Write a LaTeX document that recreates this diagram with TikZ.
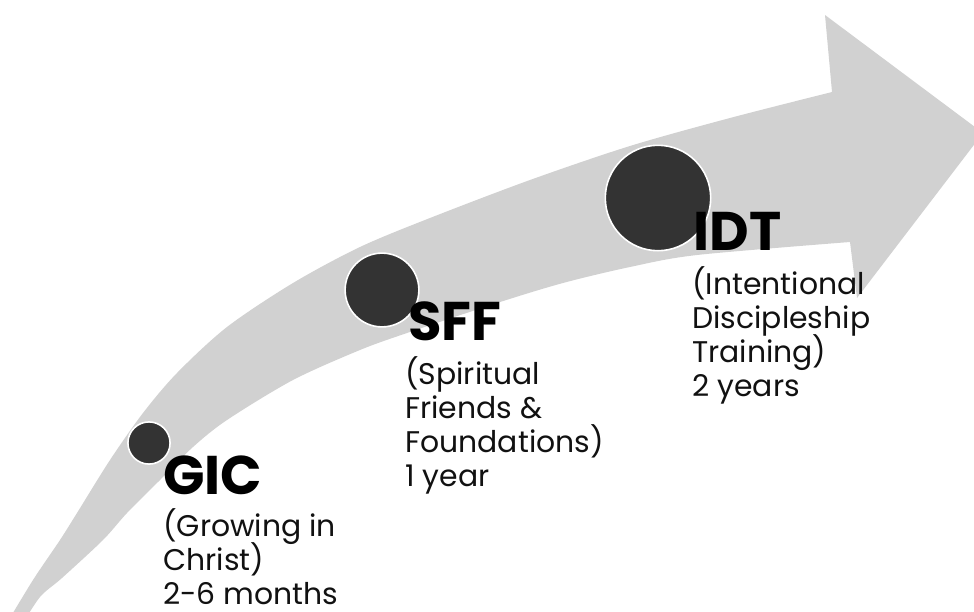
\documentclass[tikz,border=0pt]{standalone}
\usepackage{fontspec}
\setmainfont{Poppins}
\definecolor{arrowgray}{HTML}{D1D1D1}
\definecolor{dotgray}{HTML}{333333}
\definecolor{textblack}{HTML}{111111}
\begin{document}
\begin{tikzpicture}[x=0.02cm,y=-0.02cm,
  stagedot/.style={circle,fill=dotgray,draw=white,line width=0.9pt,inner sep=0pt,minimum size=#1},
  stagetitle/.style={anchor=base west,inner sep=0pt,font=\bfseries\fontsize{31}{31}\selectfont,text=black},
  stagebody/.style={anchor=base west,inner sep=0pt,font=\fontsize{17}{17}\selectfont,text=textblack}]
\useasboundingbox (0,0) rectangle (974,612);
\begin{scope}
\clip (0,0) rectangle (974,612);
\fill[arrowgray]
  plot[smooth,tension=0.5] coordinates {(4,628) (33,580) (60,540) (77,513) (110,460) (143,413) (177,373) (227,327) (293,283) (360,247) (430,218) (530,180) (630,146) (730,118) (832,92)}
  -- (825,15) -- (983,133) -- (857,298) -- (850,242)
  -- plot[smooth,tension=0.5] coordinates {(850,242) (697,255) (630,267) (563,283) (497,303) (407,333) (360,350) (293,380) (227,420) (193,447) (160,480) (127,513) (103,540) (62,578) (40,597) (20,628)}
  -- cycle;
\end{scope}
\node[stagedot=24] (gicdot) at (149,443) {};
\node[stagedot=42] (sffdot) at (382,290) {};
\node[stagedot=60] (idtdot) at (658,198) {};
\node[stagetitle] (gic) at (163,494) {GIC};
\node[stagetitle] (sff) at (408,340) {SFF};
\node[stagetitle] (idt) at (693,250) {IDT};
\foreach \t [count=\i] in {{(Growing in},{Christ)},{2-6 months}}
  \node[stagebody] (gic-\i) at (163,{536+34*(\i-1)}) {\t};
\foreach \t [count=\i] in {{(Spiritual},{Friends \&},{Foundations)},{1 year}}
  \node[stagebody] (sff-\i) at (405,{384+34*(\i-1)}) {\t};
\foreach \t [count=\i] in {{(Intentional},{Discipleship},{Training)},{2 years}}
  \node[stagebody] (idt-\i) at (692,{294+34*(\i-1)}) {\t};
\end{tikzpicture}
\end{document}
